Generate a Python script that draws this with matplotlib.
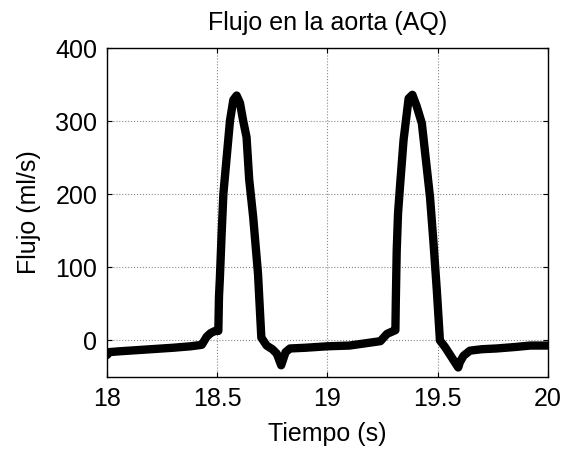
import numpy as np
import matplotlib.pyplot as plt

plt.rcParams['font.family'] = ['Liberation Sans', 'DejaVu Sans']

# datos
tiempo = [18.00, 18.01, 18.05, 18.10, 18.20, 18.30, 18.38, 18.43, 18.452, 18.47, 18.49,
          18.505, 18.508, 18.512, 18.52, 18.528, 18.543, 18.558, 18.573, 18.588, 18.603,
          18.618, 18.633, 18.645, 18.663, 18.685, 18.70, 18.724, 18.75, 18.77, 18.79,
          18.80, 18.81, 18.83, 18.90, 19.00, 19.10, 19.17, 19.24, 19.27, 19.30, 19.308,
          19.31, 19.314, 19.32, 19.33, 19.345, 19.368, 19.385, 19.405, 19.428, 19.45,
          19.465, 19.48, 19.496, 19.51, 19.533, 19.563, 19.593, 19.60, 19.617, 19.646,
          19.70, 19.767, 19.85, 19.92, 20.00]
flujo = [-20, -16, -15, -14, -12, -10, -8, -6, 5, 10, 13,
         13, 60, 85, 146, 201, 251, 301, 329, 335, 325,
         300, 278, 220, 169, 91, 4, -7, -12, -18, -34,
         -25, -16, -11, -10, -8, -7, -4, -1, 9, 13, 14,
         55, 123, 174, 215, 274, 331, 336, 320, 297, 237,
         196, 137, 68, 0, -9, -23, -37, -30, -21, -14,
         -12, -11, -9, -7, -7]

xticks = [18, 18.5, 19, 19.5, 20]
xticklabels = ['18', '18.5', '19', '19.5', '20']
yticks = [0, 100, 200, 300, 400]

fig = plt.figure(figsize=(5.77, 4.53), dpi=100)
ax = fig.add_axes([0.1854, 0.1678, 0.7643, 0.7262])

ax.plot(tiempo, flujo, color='black', linewidth=6, solid_joinstyle='round', solid_capstyle='round')

ax.set_xlim(18, 20)
ax.set_ylim(-50, 400)
ax.set_xticks(xticks)
ax.set_xticklabels(xticklabels)
ax.set_yticks(yticks)
ax.grid(True, color='#888888', linestyle=':', linewidth=0.8)
ax.tick_params(direction='in', top=True, right=True, length=3.5, width=0.8, labelsize=18, pad=7)
for s in ax.spines.values():
    s.set_linewidth(1.0)

ax.set_xlabel('Tiempo (s)', fontsize=18, labelpad=8)
ax.set_ylabel('Flujo (ml/s)', fontsize=18, labelpad=10)
ax.set_title('Flujo en la aorta (AQ)', fontsize=18, pad=13)

fig.savefig('out.png', dpi=100)
